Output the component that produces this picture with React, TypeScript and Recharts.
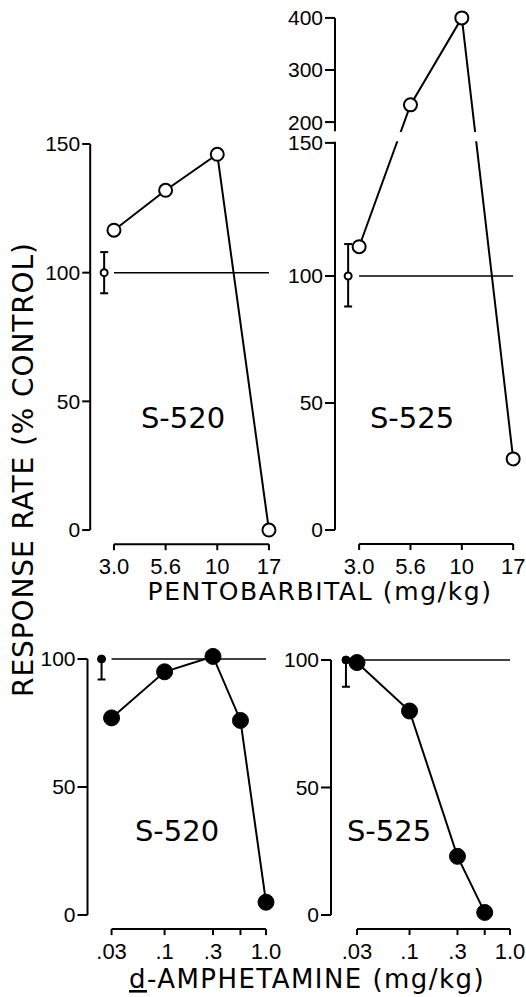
import React from 'react';
import { LineChart, Line, XAxis, YAxis, ReferenceLine, ReferenceArea, ErrorBar } from 'recharts';

// ---------------- data ----------------
const pentoTickLabels = ['3.0', '5.6', '10', '17'];
const pentoPositions = [0, 1, 2, 3];
const pentoS520 = [116.5, 132, 146, 0];
const pentoS525 = [111, 233, 400, 28];
const pentoCtrlErr520 = 8;
const pentoCtrlErr525 = 12;

const amphDoses = [0.03, 0.1, 0.3, 0.56, 1.0];
const amphTickLabels = ['.03', '.1', '.3', '', '1.0'];
const amphS520 = [77, 95, 101, 76, 5];
const amphS525 = [99, 80, 23, 1];
const amphCtrlErr520 = [8, 0];
const amphCtrlErr525 = [10.5, 0];

const pentoYTicks520 = [0, 50, 100, 150];
const pentoYTicks525 = [0, 50, 100, 150, 200, 300, 400];
const amphYTicks = [0, 50, 100];

// ---------------- layout helpers ----------------
type Rect = { x: number; y: number; w: number; h: number };
function frame(box: Rect, plot: Rect) {
  return {
    left: box.x,
    top: box.y,
    width: box.w,
    height: box.h,
    margin: { top: plot.y - box.y, right: box.x + box.w - (plot.x + plot.w), bottom: 0, left: 0 },
    yAxisWidth: plot.x - box.x,
    xAxisHeight: box.y + box.h - (plot.y + plot.h),
  };
}

// broken-axis scale for S-525 pentobarbital (display units per value, piecewise)
const BREAK_KNOTS: [number, number][] = [
  [0, 0],
  [100, 100],
  [150, 152.4],
  [200, 160.6],
  [400, 201.6],
];
function piece(v: number): number {
  const k = BREAK_KNOTS;
  if (v <= k[0][0]) return k[0][1] + (v - k[0][0]) * ((k[1][1] - k[0][1]) / (k[1][0] - k[0][0]));
  for (let i = 1; i < k.length; i++) {
    if (v <= k[i][0]) {
      const [a0, b0] = k[i - 1];
      const [a1, b1] = k[i];
      return b0 + ((v - a0) * (b1 - b0)) / (a1 - a0);
    }
  }
  const n = k.length;
  const [a0, b0] = k[n - 2];
  const [a1, b1] = k[n - 1];
  return b1 + ((v - a1) * (b1 - b0)) / (a1 - a0);
}
function unpiece(d: number): number {
  const k = BREAK_KNOTS;
  if (d <= k[0][1]) return k[0][0] + (d - k[0][1]) * ((k[1][0] - k[0][0]) / (k[1][1] - k[0][1]));
  for (let i = 1; i < k.length; i++) {
    if (d <= k[i][1]) {
      const [a0, b0] = k[i - 1];
      const [a1, b1] = k[i];
      return a0 + ((d - b0) * (a1 - a0)) / (b1 - b0);
    }
  }
  const n = k.length;
  const [a0, b0] = k[n - 2];
  const [a1, b1] = k[n - 1];
  return a1 + ((d - b1) * (a1 - a0)) / (b1 - b0);
}
function makeBrokenScale(dom: number[] = [0, 1], rng: number[] = [0, 1]): any {
  let d = dom.slice();
  let r = rng.slice();
  const scale: any = (v: any) => {
    const f0 = piece(d[0]);
    const f1 = piece(d[d.length - 1]);
    const t = (piece(Number(v)) - f0) / (f1 - f0);
    return r[0] + t * (r[r.length - 1] - r[0]);
  };
  scale.domain = (x?: any[]) => {
    if (x === undefined) return d.slice();
    d = x.map(Number);
    return scale;
  };
  scale.range = (x?: any[]) => {
    if (x === undefined) return r.slice();
    r = x.map(Number);
    return scale;
  };
  scale.copy = () => makeBrokenScale(d, r);
  scale.ticks = () => pentoYTicks525.slice();
  scale.tickFormat = () => (v: any) => String(v);
  scale.nice = () => scale;
  scale.clamp = (c?: any) => (c === undefined ? false : scale);
  scale.invert = (px: number) => {
    const f0 = piece(d[0]);
    const f1 = piece(d[d.length - 1]);
    const t = (px - r[0]) / (r[r.length - 1] - r[0]);
    return unpiece(f0 + t * (f1 - f0));
  };
  return scale;
}

const FONT_NUM = 'Liberation Sans';
const FONT_TXT = 'DejaVu Sans';
const tickX = { fontSize: 22, fontFamily: FONT_NUM, fill: '#000' };
const tickY = { fontSize: 21, fontFamily: FONT_NUM, fill: '#000' };
const tickLineStyle = { stroke: '#000', strokeWidth: 2 };
const openDot = { r: 6.5, fill: '#fff', stroke: '#000', strokeWidth: 2 };
const openCtrlDot = { r: 3.5, fill: '#fff', stroke: '#000', strokeWidth: 2 };
const filledDot = { r: 8, fill: '#000', stroke: '#000', strokeWidth: 1 };
const filledCtrlDot = { r: 4, fill: '#000', stroke: '#000', strokeWidth: 1 };
const ERR_W = 4;

const pentoFmt = (v: number) => {
  const i = pentoPositions.indexOf(v);
  return i >= 0 ? pentoTickLabels[i] : '';
};
const amphFmt = (v: number) => {
  const i = amphDoses.indexOf(v);
  return i >= 0 ? amphTickLabels[i] : '';
};

// ---------------- panels ----------------
function PentoS520() {
  const xDom: [number, number] = [-0.46, 3.1];
  const yDom: [number, number] = [-5.5, 155];
  const f = frame({ x: 0, y: 100, w: 300, h: 490 }, { x: 90.2, y: 131.1, w: 183.9, h: 413.1 });
  const data = pentoPositions.map((x, i) => ({ x, v: pentoS520[i] }));
  const ctrl = [{ x: -0.19, v: 100, err: pentoCtrlErr520 }];
  return (
    <div style={{ position: 'absolute', left: f.left, top: f.top }}>
      <LineChart width={f.width} height={f.height} margin={f.margin}>
        <XAxis dataKey="x" type="number" domain={xDom} ticks={pentoPositions} tickFormatter={pentoFmt}
          axisLine={false} tickLine={tickLineStyle} tickSize={6} tickMargin={8} height={f.xAxisHeight}
          interval={0} tick={tickX} />
        <YAxis type="number" domain={yDom} ticks={pentoYTicks520} axisLine={false} tickLine={tickLineStyle}
          tickSize={8} tickMargin={2} width={f.yAxisWidth} interval={0} tick={tickY} />
        <ReferenceLine segment={[{ x: xDom[0], y: 0 }, { x: xDom[0], y: 150 }]} stroke="#000" strokeWidth={2} ifOverflow="visible" />
        <ReferenceLine segment={[{ x: 0, y: yDom[0] }, { x: 3, y: yDom[0] }]} stroke="#000" strokeWidth={2} ifOverflow="visible" />
        <ReferenceLine segment={[{ x: 0, y: 100 }, { x: 3, y: 100 }]} stroke="#000" strokeWidth={1.5} ifOverflow="visible" />
        <Line data={data} dataKey="v" stroke="#000" strokeWidth={2} dot={openDot} activeDot={false} isAnimationActive={false} />
        <Line data={ctrl} dataKey="v" stroke="#000" strokeWidth={2} dot={openCtrlDot} activeDot={false} isAnimationActive={false}>
          <ErrorBar dataKey="err" direction="y" width={ERR_W} stroke="#000" strokeWidth={2} isAnimationActive={false} />
        </Line>
      </LineChart>
    </div>
  );
}

function PentoS525() {
  const xDom: [number, number] = [-0.47, 3.1];
  const yDom: [number, number] = [-5.5, 410];
  const f = frame({ x: 260, y: 0, w: 266, h: 590 }, { x: 335, y: 12.7, w: 183.3, h: 531.3 });
  const data = pentoPositions.map((x, i) => ({ x, v: pentoS525[i] }));
  const ctrl = [{ x: -0.214, v: 100, err: pentoCtrlErr525 }];
  const brokenScale = makeBrokenScale();
  return (
    <div style={{ position: 'absolute', left: f.left, top: f.top }}>
      <LineChart width={f.width} height={f.height} margin={f.margin}>
        <XAxis dataKey="x" type="number" domain={xDom} ticks={pentoPositions} tickFormatter={pentoFmt}
          axisLine={false} tickLine={tickLineStyle} tickSize={6} tickMargin={8} height={f.xAxisHeight}
          interval={0} tick={tickX} />
        <YAxis type="number" domain={yDom} scale={brokenScale} ticks={pentoYTicks525} axisLine={false}
          tickLine={tickLineStyle} tickSize={10} tickMargin={2} width={f.yAxisWidth} interval={0} tick={tickY} />
        <ReferenceLine segment={[{ x: xDom[0], y: 0 }, { x: xDom[0], y: 153 }]} stroke="#000" strokeWidth={2} ifOverflow="visible" />
        <ReferenceLine segment={[{ x: xDom[0], y: 178 }, { x: xDom[0], y: 400 }]} stroke="#000" strokeWidth={2} ifOverflow="visible" />
        <ReferenceLine segment={[{ x: 0, y: yDom[0] }, { x: 3, y: yDom[0] }]} stroke="#000" strokeWidth={2} ifOverflow="visible" />
        <ReferenceLine segment={[{ x: 0, y: 100 }, { x: 3, y: 100 }]} stroke="#000" strokeWidth={1.5} ifOverflow="visible" />
        <Line data={data} dataKey="v" stroke="#000" strokeWidth={2} dot={openDot} activeDot={false} isAnimationActive={false} />
        <Line data={ctrl} dataKey="v" stroke="#000" strokeWidth={2} dot={openCtrlDot} activeDot={false} isAnimationActive={false}>
          <ErrorBar dataKey="err" direction="y" width={ERR_W} stroke="#000" strokeWidth={2} isAnimationActive={false} />
        </Line>
        <ReferenceArea x1={-0.2} x2={3.1} y1={154} y2={176} fill="#fff" fillOpacity={1} stroke="none" ifOverflow="visible" zIndex={1500} />
      </LineChart>
    </div>
  );
}

function AmphS520() {
  const xDom: [number, number] = [0.01737, 1.146];
  const yDom: [number, number] = [-5.5, 110];
  const f = frame({ x: 0, y: 610, w: 290, h: 387 }, { x: 87.5, y: 633.4, w: 184.5, h: 295.7 });
  const data = amphDoses.map((x, i) => ({ x, v: amphS520[i] }));
  const ctrl = [{ x: 0.0239, v: 100, err: amphCtrlErr520 }];
  return (
    <div style={{ position: 'absolute', left: f.left, top: f.top }}>
      <LineChart width={f.width} height={f.height} margin={f.margin}>
        <XAxis dataKey="x" type="number" scale="log" domain={xDom} ticks={amphDoses} tickFormatter={amphFmt}
          axisLine={false} tickLine={tickLineStyle} tickSize={6} tickMargin={8} height={f.xAxisHeight}
          interval={0} tick={tickX} />
        <YAxis type="number" domain={yDom} ticks={amphYTicks} axisLine={false} tickLine={tickLineStyle}
          tickSize={10} tickMargin={2} width={f.yAxisWidth} interval={0} tick={tickY} />
        <ReferenceLine segment={[{ x: xDom[0], y: 0 }, { x: xDom[0], y: 100 }]} stroke="#000" strokeWidth={2} ifOverflow="visible" />
        <ReferenceLine segment={[{ x: 0.03, y: yDom[0] }, { x: 1.0, y: yDom[0] }]} stroke="#000" strokeWidth={2} ifOverflow="visible" />
        <ReferenceLine segment={[{ x: 0.03, y: 100 }, { x: 1.0, y: 100 }]} stroke="#000" strokeWidth={1.5} ifOverflow="visible" />
        <Line data={data} dataKey="v" stroke="#000" strokeWidth={2} dot={filledDot} activeDot={false} isAnimationActive={false} />
        <Line data={ctrl} dataKey="v" stroke="#000" strokeWidth={2} dot={filledCtrlDot} activeDot={false} isAnimationActive={false}>
          <ErrorBar dataKey="err" direction="y" width={ERR_W} stroke="#000" strokeWidth={2} isAnimationActive={false} />
        </Line>
      </LineChart>
    </div>
  );
}

function AmphS525() {
  const xDom: [number, number] = [0.01654, 1.147];
  const yDom: [number, number] = [-5.5, 110];
  const f = frame({ x: 270, y: 610, w: 256, h: 387 }, { x: 331, y: 634.5, w: 185, h: 294.5 });
  const data = amphS525.map((v, i) => ({ x: amphDoses[i], v }));
  const ctrl = [{ x: 0.0233, v: 100, err: amphCtrlErr525 }];
  return (
    <div style={{ position: 'absolute', left: f.left, top: f.top }}>
      <LineChart width={f.width} height={f.height} margin={f.margin}>
        <XAxis dataKey="x" type="number" scale="log" domain={xDom} ticks={amphDoses} tickFormatter={amphFmt}
          axisLine={false} tickLine={tickLineStyle} tickSize={6} tickMargin={8} height={f.xAxisHeight}
          interval={0} tick={tickX} />
        <YAxis type="number" domain={yDom} ticks={amphYTicks} axisLine={false} tickLine={tickLineStyle}
          tickSize={10} tickMargin={2} width={f.yAxisWidth} interval={0} tick={tickY} />
        <ReferenceLine segment={[{ x: xDom[0], y: 0 }, { x: xDom[0], y: 100 }]} stroke="#000" strokeWidth={2} ifOverflow="visible" />
        <ReferenceLine segment={[{ x: 0.03, y: yDom[0] }, { x: 1.0, y: yDom[0] }]} stroke="#000" strokeWidth={2} ifOverflow="visible" />
        <ReferenceLine segment={[{ x: 0.03, y: 100 }, { x: 1.0, y: 100 }]} stroke="#000" strokeWidth={1.5} ifOverflow="visible" />
        <Line data={data} dataKey="v" stroke="#000" strokeWidth={2} dot={filledDot} activeDot={false} isAnimationActive={false} />
        <Line data={ctrl} dataKey="v" stroke="#000" strokeWidth={2} dot={filledCtrlDot} activeDot={false} isAnimationActive={false}>
          <ErrorBar dataKey="err" direction="y" width={ERR_W} stroke="#000" strokeWidth={2} isAnimationActive={false} />
        </Line>
      </LineChart>
    </div>
  );
}

function Labels() {
  return (
    <svg width={526} height={997} style={{ position: 'absolute', left: 0, top: 0, pointerEvents: 'none' }}>
      <text transform="translate(33,469.5) rotate(-90)" textAnchor="middle" fontFamily={FONT_TXT} fontSize={28}
        letterSpacing={0.9} fill="#000">RESPONSE RATE (% CONTROL)</text>
      <text x={320} y={600} textAnchor="middle" fontFamily={FONT_TXT} fontSize={25} letterSpacing={1.6} fill="#000">
        PENTOBARBITAL (mg/kg)
      </text>
      <text x={307} y={988} textAnchor="middle" fontFamily={FONT_TXT} fontSize={26} letterSpacing={1.45} fill="#000">
        <tspan style={{ textDecoration: 'underline' }}>d</tspan>-AMPHETAMINE (mg/kg)
      </text>
      <text x={183} y={428} textAnchor="middle" fontFamily={FONT_TXT} fontSize={29} fill="#000">S-520</text>
      <text x={412} y={428} textAnchor="middle" fontFamily={FONT_TXT} fontSize={29} fill="#000">S-525</text>
      <text x={177} y={841} textAnchor="middle" fontFamily={FONT_TXT} fontSize={29} fill="#000">S-520</text>
      <text x={389} y={841} textAnchor="middle" fontFamily={FONT_TXT} fontSize={29} fill="#000">S-525</text>
    </svg>
  );
}

export default function App() {
  return (
    <div style={{ position: 'absolute', left: 0, top: 0, width: 526, height: 997, background: '#fff', overflow: 'hidden' }}>
      <PentoS520 />
      <PentoS525 />
      <AmphS520 />
      <AmphS525 />
      <Labels />
    </div>
  );
}
